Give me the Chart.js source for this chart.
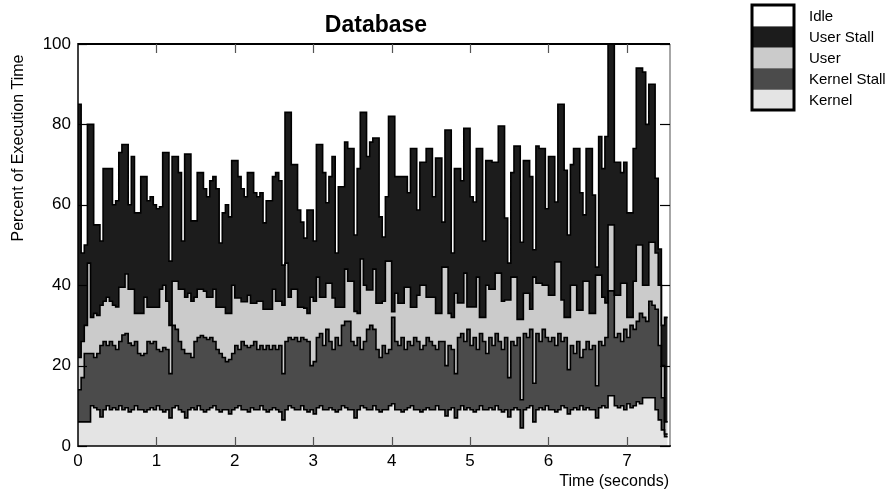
<!DOCTYPE html>
<html>
<head>
<meta charset="utf-8">
<script src="https://cdn.jsdelivr.net/npm/chart.js@4.4.1/dist/chart.umd.min.js"></script>
<style>
  html, body { margin: 0; padding: 0; background: #fff; }
  #wrap { width: 891px; height: 492px; }
</style>
</head>
<body>
<div id="wrap"><canvas id="chart" width="891" height="492"></canvas></div>
<script>
// one sample every 40 ms, values are percent of execution time
var sampleStep = 0.04;
var xTicks = [0, 1, 2, 3, 4, 5, 6, 7];
var yTicks = [0, 20, 40, 60, 80, 100];
var legendLabels = ["Idle", "User Stall", "User", "Kernel Stall", "Kernel"];

var kernel = [6,6,6,6,10,9.5,9,7.2,9,10,
  9,9.5,9,10,9,9.5,8.5,9,10,9,
  9,8.5,9,9.5,9,10,9,8.5,9,7,
  9.5,10,9,8.5,7,9,9.5,9,10,9,
  8.5,9,9.5,10,9,8.5,9,9,8,9,
  9.5,10,9,9,8.5,9.5,9,9,10,9,
  8.5,9,9.5,9,8.5,6.5,9,10,9.5,9,
  9,10,9,8.5,9,8,9.5,10,9,9,
  9.5,9,8.5,9,10,9.5,9,9,7,9,
  10,9.5,9,9,10,9,8.5,9,9,10,
  10.5,9,9,8.5,9,9.5,10,9,9,8.5,
  9,9.5,9,9,10,9,9,7.5,9,9.5,
  7,9,10,9,9.5,9,8.5,9,10,9,
  9,9.5,9,10,9,8.5,9,7.2,9,9.5,
  9,4.5,9,9.5,10,6,9,9.5,9,10,
  9,9,8.5,9,10,9.5,8,9,9.5,9,
  10,9,9.5,9,9,7,9.5,10,9.5,12.5,
  12.5,10,9.5,10,9,10.5,9.5,10,11,10.5,
  12,12,12,12,9,6.5,4,2.3];

var kernelStall = [8,11,17,17,13,12.5,14,17.8,17,15,
  17,15.5,15,16,18.6,18.5,17.1,16,16,14,
  13.5,14.5,17,16,17,14,14.5,16,15,11,
  20.5,19,17,15.5,16,14,12.5,17,17,18.5,
  18.5,17.5,17.5,16,15,14.5,13,12,13.5,14,
  15.5,14,17,16,16,15.5,17,15,15,15,
  16.5,15,15.5,15,16.5,11.5,17,17,17,18,
  17,17,17.5,17.5,11,13,17.5,18,16,20,
  16.5,15,18.5,16,20,21.5,22,17,18,18,
  14,16.5,20,21,19,15,13.5,16,14,14,
  21.5,17,16,18.5,15,16.5,15,18,17,15.5,
  16,17.5,17,16,14,17,17,12.5,16,14.5,
  11,18,18,17,19.5,16,18.5,15,18,17,
  14,17.5,16,18,17,15.5,18,9.8,17,15.5,
  18,7,19,17.5,19,9.6,19,16.5,20,17,
  17,18,16.5,19,16,17.5,11,16,13.5,17,
  12,15,16.5,15,16,8,16.5,15,17.5,26.1,
  26.1,17,18.5,16,20,16.5,20.5,19,20,22.5,
  20,19,24,23,25,18.5,8,0.7];

var user = [8,9,7,22.5,9,11,9.5,10,10,12,
  10,10,10.6,13.5,11.9,14.8,13.4,14,7,10,
  10.5,14,8.5,9,8.5,10.5,15.5,15.5,12,12,
  11,12,13,15,14,15,14,11,12,11.5,
  11.5,10.5,10,13,10.5,11.5,12.5,12,11.5,17,
  11.8,12.8,9.9,10.9,13,10.5,9.5,12,11,10,
  9,10,14,12,11,17,19.5,10,12.5,12,
  8.5,7.5,7.8,7,17,15,15,9,12,11.5,
  14.5,12.8,7.5,9.5,4.5,13,10,15,8.5,6,
  22.5,14,9.8,8.8,15,11.5,13.5,11,23,22,
  1.4,12,10.5,8.5,15.5,13.5,9.5,7.5,11.5,16,
  15,10,11,12,9,7,18.5,24.5,8,8,
  20,8.6,7.6,17,5.6,9.6,7.6,18,4,6,
  17,12,14,15,17,12,9.3,19.3,16,17,
  4.5,20,10,11,5,26.4,12.5,14.5,11,13,
  11.5,10.5,20.8,17.8,10.3,5,13,15,17,7.8,
  11.8,17,15,9,8,27.5,16.5,12,8.6,16.4,
  16.4,10.5,9.5,14.5,11.5,5,2,12,19,17,
  8,9,14.7,15.7,14,15,8,3];

var userStall = [63,22,20,34.5,48,22,22.5,16,33,32,
  33,25,26.4,33.5,35.5,32.2,21,33,25,25,
  34,30,26.5,27.5,25.5,24.5,20.5,33,37,16,
  31,31,29,12,35.6,34.6,20,19,29,29,
  25.5,25,29,28,29.5,16,23.5,27,24,31,
  34.2,30.2,28.1,26.1,30.5,32.5,27.5,26,27,21.5,
  27,27,28,32,30,10,37.5,46,31,31,
  24.2,21.2,17.4,25.7,21.7,15,33,38,31,20,
  26.5,35.2,13.5,30,30,31.6,33,33,19,36,
  36.5,43,33.2,36.8,32.6,41.1,21.5,16,16,36,
  48.6,29,31.5,31.5,27.5,23.5,39.5,39.5,21.2,30.6,
  30.6,37,37,25,38.6,38.6,11.2,34.1,45.6,16,
  31,33.4,30.4,36,44.4,27.4,26.1,32,42,19,
  31,32,31.6,27.6,36.6,43.6,20.4,9.2,26,32.6,
  43.1,19.2,33,33,33,6.8,34.1,33.5,34,19,
  34.5,34.5,14.9,39.2,48.7,36.6,20.5,30,34,40.2,
  29.2,16.5,33,41,29.4,2,34.5,32,41.4,45,
  45,33.1,33.1,27.5,30.1,26,26,33,44,44,
  53,40,39.3,39.3,18.6,9,10,26];

var colors = {
  idle: "#ffffff",
  userStall: "#1c1c1c",
  user: "#cbcbcb",
  kernelStall: "#4b4b4b",
  kernel: "#e4e4e4"
};
var legendColors = [colors.idle, colors.userStall, colors.user, colors.kernelStall, colors.kernel];

var FONT = "'Liberation Sans', Arial, Helvetica, sans-serif";

// each sample holds its value until the next one, so close the last step
function toSteps(values) {
    var pts = [];
    for (var i = 0; i < values.length; i++) {
        pts.push({ x: +(i * sampleStep).toFixed(2), y: values[i] });
    }
    pts.push({ x: +(values.length * sampleStep).toFixed(2), y: values[values.length - 1] });
    return pts;
}

function layer(label, values, color, fill) {
    return {
        label: label,
        data: toSteps(values),
        backgroundColor: color,
        borderColor: "#000",
        borderWidth: 1.6,
        stepped: true,
        fill: fill,
        pointRadius: 0,
        pointHoverRadius: 0,
        tension: 0
    };
}

var decorPlugin = {
    id: "decor",
    afterDatasetsDraw: function (chart) {
        var ctx = chart.ctx, a = chart.chartArea;
        var sx = chart.scales.x, sy = chart.scales.y;
        function seg(x1, y1, x2, y2) {
            ctx.beginPath(); ctx.moveTo(x1, y1); ctx.lineTo(x2, y2); ctx.stroke();
        }
        ctx.save();
        // frame
        ctx.strokeStyle = "#8a8a8a"; ctx.lineWidth = 1.5;
        seg(a.right, a.top, a.right, a.bottom);
        ctx.strokeStyle = "#000";
        ctx.lineWidth = 2;
        seg(a.left, a.top, a.right, a.top);
        ctx.lineWidth = 1.5;
        seg(a.left, a.top - 1, a.left, a.bottom + 1);
        seg(a.left, a.bottom, a.right + 1, a.bottom);
        // ticks pointing inwards on all four sides
        ctx.lineWidth = 1.2;
        xTicks.forEach(function (v) {
            var px = Math.round(sx.getPixelForValue(v)) + 0.5;
            if (v > 0) {
                ctx.strokeStyle = "#555";
                seg(px, a.bottom, px, a.bottom - 9);
                seg(px, a.top, px, a.top + 9);
            }
        });
        ctx.strokeStyle = "#000";
        yTicks.forEach(function (v) {
            var py = Math.round(sy.getPixelForValue(v)) + 0.5;
            seg(a.left, py, a.left + 9, py);
            seg(a.right - 10, py, a.right, py);
        });
        ctx.restore();
    },
    afterDraw: function (chart) {
        var ctx = chart.ctx, a = chart.chartArea;
        ctx.save();
        ctx.fillStyle = "#000";
        // title
        ctx.font = "bold 23px " + FONT;
        ctx.textAlign = "center";
        ctx.textBaseline = "middle";
        ctx.fillText("Database", (a.left + a.right) / 2 + 2, 26);
        // axis titles
        ctx.font = "16px " + FONT;
        ctx.textAlign = "right";
        ctx.fillText("Time (seconds)", 669, 482);
        ctx.translate(19, 148);
        ctx.rotate(-Math.PI / 2);
        ctx.textAlign = "center";
        ctx.fillText("Percent of Execution Time", 0, 0);
        ctx.restore();

        // legend box
        ctx.save();
        var lx = 752, ly = 5, lw = 42, sh = 21;
        for (var i = 0; i < legendLabels.length; i++) {
            ctx.fillStyle = legendColors[i];
            ctx.fillRect(lx, ly + i * sh, lw, sh);
            if (i > 0) {
                ctx.strokeStyle = "#777"; ctx.lineWidth = 1;
                ctx.beginPath(); ctx.moveTo(lx, ly + i * sh + 0.5); ctx.lineTo(lx + lw, ly + i * sh + 0.5); ctx.stroke();
            }
            ctx.fillStyle = "#000";
            ctx.font = "15px " + FONT;
            ctx.textAlign = "left";
            ctx.textBaseline = "middle";
            ctx.fillText(legendLabels[i], 809, ly + i * sh + sh / 2 + 1);
        }
        ctx.strokeStyle = "#000"; ctx.lineWidth = 3;
        ctx.strokeRect(lx, ly, lw, sh * legendLabels.length);
        ctx.restore();
    }
};

new Chart(document.getElementById("chart"), {
    type: "line",
    data: {
        datasets: [
            layer("Kernel", kernel, colors.kernel, "origin"),
            layer("Kernel Stall", kernelStall, colors.kernelStall, "-1"),
            layer("User", user, colors.user, "-1"),
            layer("User Stall", userStall, colors.userStall, "-1")
        ]
    },
    options: {
        responsive: false,
        animation: false,
        events: [],
        layout: { padding: { left: 0, right: 221, top: 44, bottom: 0 } },
        plugins: {
            legend: { display: false },
            title: { display: false },
            tooltip: { enabled: false },
            filler: { propagate: false, drawTime: "beforeDatasetsDraw" }
        },
        scales: {
            x: {
                type: "linear",
                min: 0,
                max: 7.55,
                afterBuildTicks: function (s) { s.ticks = xTicks.map(function (v) { return { value: v }; }); },
                afterFit: function (s) { s.height = 46; },
                grid: { display: false, drawTicks: false },
                border: { display: false },
                ticks: { color: "#000", font: { family: FONT, size: 17 }, padding: 5, maxRotation: 0, autoSkip: false }
            },
            y: {
                stacked: true,
                min: 0,
                max: 100,
                afterBuildTicks: function (s) { s.ticks = yTicks.map(function (v) { return { value: v }; }); },
                afterFit: function (s) { s.width = 78; },
                grid: { display: false, drawTicks: false },
                border: { display: false },
                ticks: { color: "#000", font: { family: FONT, size: 17 }, padding: 7 }
            }
        }
    },
    plugins: [decorPlugin]
});
</script>
</body>
</html>
